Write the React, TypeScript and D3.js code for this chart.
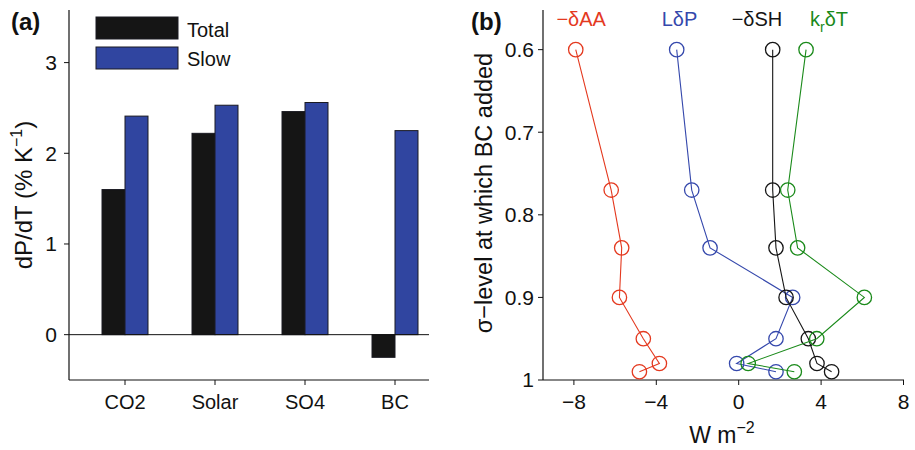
import React from "react";
import * as d3 from "d3";

// ---- Panel (a) data ----
const categories = ["CO2", "Solar", "SO4", "BC"];
const seriesNames = ["Total", "Slow"];
const totalValues = [1.6, 2.22, 2.46, -0.25];
const slowValues = [2.41, 2.53, 2.56, 2.25];
const aTicks = [0, 1, 2, 3];

// ---- Panel (b) data ----
const sigmaLevels = [0.6, 0.77, 0.84, 0.9, 0.95, 0.98, 0.99];
const negDeltaAA = [-7.91, -6.19, -5.68, -5.79, -4.63, -3.85, -4.82];
const LdeltaP = [-3.01, -2.28, -1.39, 2.62, 1.81, -0.1, 1.81];
const negDeltaSH = [1.65, 1.65, 1.81, 2.3, 3.38, 3.8, 4.51];
const krDeltaT = [3.27, 2.38, 2.86, 6.1, 3.79, 0.46, 2.7];
const bXTicks = [-8, -4, 0, 4, 8];
const bYTicks = [0.6, 0.7, 0.8, 0.9, 1];
const bYTickLabels = ["0.6", "0.7", "0.8", "0.9", "1"];

const FONT = "'Liberation Sans', Arial, Helvetica, sans-serif";
const RED = "#e4391f";
const BLUE = "#3548ac";
const BLACK = "#151515";
const GREEN = "#1a8a1a";
const BAR_BLUE = "#3045a0";

export default function App() {
  // Panel (a) scales
  const ay = d3.scaleLinear().domain([-0.5, 3.58]).range([380, 10]);
  const ax = d3
    .scaleBand<string>()
    .domain(categories)
    .range([80, 440])
    .paddingInner(0.489)
    .paddingOuter(0.2445);
  const asub = d3.scaleBand<string>().domain(seriesNames).range([0, ax.bandwidth()]);
  const aLeft = 69;
  const aRight = 429;

  // Panel (b) scales
  const bx = d3.scaleLinear().domain([-9.5, 8]).range([543, 903.5]);
  const by = d3.scaleLinear().domain([0.552, 1]).range([10, 380]);
  const line = d3
    .line<[number, number]>()
    .x((d) => bx(d[0]))
    .y((d) => by(d[1]));

  const bSeries = [
    { values: negDeltaAA, color: RED },
    { values: LdeltaP, color: BLUE },
    { values: negDeltaSH, color: BLACK },
    { values: krDeltaT, color: GREEN },
  ];

  const barData = categories.flatMap((c, i) => [
    { c, s: "Total", v: totalValues[i], fill: BLACK },
    { c, s: "Slow", v: slowValues[i], fill: BAR_BLUE },
  ]);

  return (
    <svg
      width={915}
      height={450}
      style={{ position: "absolute", left: 0, top: 0, background: "#fff" }}
      fontFamily={FONT}
    >
      {/* ================= Panel (a) ================= */}
      <text x={11} y={30} fontSize={24} fontWeight="bold" fill="#111">
        (a)
      </text>

      {/* bars */}
      {barData.map((d, i) => {
        const x = (ax(d.c) ?? 0) + (asub(d.s) ?? 0);
        const y0 = ay(0);
        const y1 = ay(d.v);
        return (
          <rect
            key={i}
            x={x}
            y={Math.min(y0, y1)}
            width={asub.bandwidth()}
            height={Math.abs(y1 - y0)}
            fill={d.fill}
            stroke="#1a1a22"
            strokeWidth={1}
          />
        );
      })}

      {/* zero line */}
      <line x1={aLeft} x2={aRight} y1={ay(0)} y2={ay(0)} stroke="#111" strokeWidth={1} />
      {/* axes */}
      <line x1={aLeft} x2={aLeft} y1={10} y2={380} stroke="#111" strokeWidth={1.2} />
      <line x1={aLeft} x2={aRight} y1={380} y2={380} stroke="#111" strokeWidth={1.2} />
      {aTicks.map((t) => (
        <g key={t}>
          <line x1={aLeft - 5} x2={aLeft} y1={ay(t)} y2={ay(t)} stroke="#111" />
          <text
            x={aLeft - 12}
            y={ay(t)}
            dy="0.35em"
            textAnchor="end"
            fontSize={21}
            fill="#111"
          >
            {t}
          </text>
        </g>
      ))}
      {categories.map((c) => {
        const cx = (ax(c) ?? 0) + ax.bandwidth() / 2;
        return (
          <g key={c}>
            <line x1={cx} x2={cx} y1={380} y2={385} stroke="#111" />
            <text x={cx} y={409} textAnchor="middle" fontSize={20} fill="#111">
              {c}
            </text>
          </g>
        );
      })}
      <text
        transform={`translate(32,195) rotate(-90)`}
        textAnchor="middle"
        fontSize={24}
        fill="#111"
      >
        dP/dT (% K
        <tspan fontSize={16} dy={-10}>
          −1
        </tspan>
        <tspan dy={10}>)</tspan>
      </text>

      {/* legend */}
      <rect x={96} y={17} width={82} height={22} fill={BLACK} stroke="#1a1a22" />
      <rect x={96} y={47} width={82} height={22} fill={BAR_BLUE} stroke="#1a1a22" />
      <text x={187} y={37} fontSize={20} fill="#111">
        Total
      </text>
      <text x={187} y={66} fontSize={20} fill="#111">
        Slow
      </text>

      {/* ================= Panel (b) ================= */}
      <text x={471} y={30} fontSize={24} fontWeight="bold" fill="#111">
        (b)
      </text>

      <line x1={543} x2={543} y1={10} y2={380} stroke="#111" strokeWidth={1.2} />
      <line x1={543} x2={904} y1={380} y2={380} stroke="#111" strokeWidth={1.2} />
      {bYTicks.map((t, i) => (
        <g key={t}>
          <line x1={538} x2={543} y1={by(t)} y2={by(t)} stroke="#111" />
          <text
            x={534}
            y={by(t)}
            dy="0.35em"
            textAnchor="end"
            fontSize={21}
            fill="#111"
          >
            {bYTickLabels[i]}
          </text>
        </g>
      ))}
      {bXTicks.map((t) => (
        <g key={t}>
          <line x1={bx(t)} x2={bx(t)} y1={380} y2={385} stroke="#111" />
          <text x={bx(t)} y={409} textAnchor="middle" fontSize={21} fill="#111">
            {t < 0 ? `−${Math.abs(t)}` : t}
          </text>
        </g>
      ))}
      <text
        transform={`translate(492,193) rotate(-90)`}
        textAnchor="middle"
        fontSize={23.5}
        fill="#111"
      >
        σ−level at which BC added
      </text>
      <text x={722} y={443} textAnchor="middle" fontSize={23} fill="#111">
        W m
        <tspan fontSize={16} dy={-10}>
          −2
        </tspan>
      </text>

      {/* series */}
      {bSeries.map((s, si) => {
        const pts: [number, number][] = s.values.map((v, i) => [v, sigmaLevels[i]]);
        return (
          <g key={si}>
            <path d={line(pts) ?? ""} fill="none" stroke={s.color} strokeWidth={1.1} />
            {pts.map((p, i) => (
              <circle
                key={i}
                cx={bx(p[0])}
                cy={by(p[1])}
                r={7.2}
                fill="none"
                stroke={s.color}
                strokeWidth={1.3}
              />
            ))}
          </g>
        );
      })}

      {/* series labels */}
      <text x={bx(-8.85)} y={26} fontSize={20} fill={RED}>
        −δAA
      </text>
      <text x={bx(-3.74)} y={26} fontSize={20} fill={BLUE}>
        LδP
      </text>
      <text x={bx(-0.34)} y={26} fontSize={20} fill={BLACK}>
        −δSH
      </text>
      <text x={bx(3.46)} y={26} fontSize={20} fill={GREEN}>
        k
        <tspan fontSize={14} dy={6}>
          r
        </tspan>
        <tspan dy={-6}>δT</tspan>
      </text>
    </svg>
  );
}
